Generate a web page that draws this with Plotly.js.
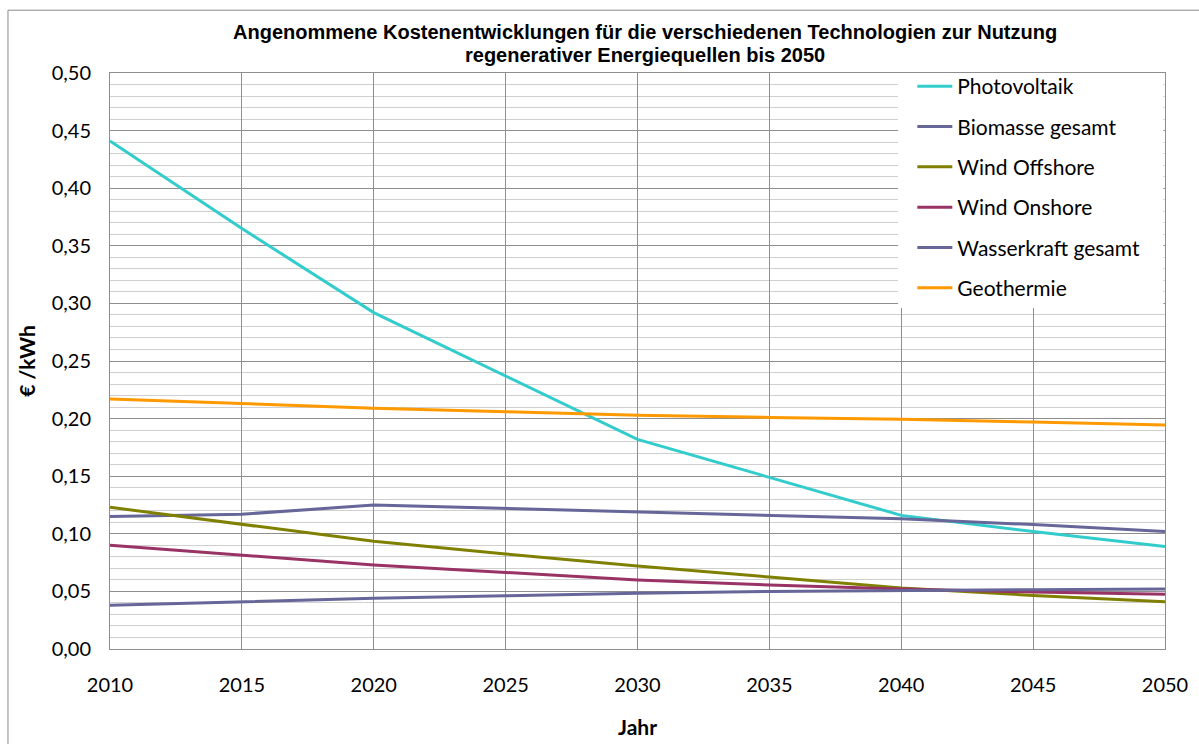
<!DOCTYPE html>
<html>
<head>
<meta charset="utf-8">
<script src="https://cdn.plot.ly/plotly-3.0.1.min.js"></script>
<style>html,body{margin:0;padding:0;background:#fff;}#chart{width:1199px;height:744px;}</style>
</head>
<body>
<div id="chart"></div>
<script>
const years = [2010, 2015, 2020, 2025, 2030, 2035, 2040, 2045, 2050];
const seriesNames = ["Photovoltaik", "Biomasse gesamt", "Wind Offshore", "Wind Onshore", "Wasserkraft gesamt", "Geothermie"];
const photovoltaik = [0.441, 0.365, 0.292, 0.237, 0.182, 0.149, 0.116, 0.102, 0.089];
const biomasse = [0.115, 0.117, 0.125, 0.122, 0.119, 0.116, 0.113, 0.108, 0.102];
const windOffshore = [0.123, 0.108, 0.0935, 0.0825, 0.072, 0.0625, 0.053, 0.0465, 0.041];
const windOnshore = [0.090, 0.0815, 0.073, 0.0665, 0.060, 0.0555, 0.052, 0.0495, 0.0475];
const wasserkraft = [0.038, 0.041, 0.044, 0.0462, 0.0485, 0.050, 0.051, 0.0515, 0.052];
const geothermie = [0.217, 0.213, 0.209, 0.206, 0.203, 0.201, 0.1995, 0.197, 0.1945];
const titleLines = ["Angenommene Kostenentwicklungen für die verschiedenen Technologien zur Nutzung",
                    "regenerativer Energiequellen bis 2050"];
const colors = ["#33CCCC", "#666699", "#808000", "#993366", "#666699", "#FF9900"];
const allValues = [photovoltaik, biomasse, windOffshore, windOnshore, wasserkraft, geothermie];

const traces = allValues.map((vals, i) => ({
  x: years, y: vals, type: "scatter", mode: "lines",
  name: seriesNames[i], legendgroup: "g" + i,
  line: {color: colors[i], width: 3}
}));

const titleFont = {family: "Liberation Sans, Arial, sans-serif", size: 20, color: "#000"};
const tickFont = {family: "Lato, sans-serif", size: 20, color: "#000"};
const axTitleFont = {family: "Lato, sans-serif", size: 21, color: "#000", weight: 700};

const layout = {
  width: 1199, height: 744,
  margin: {l: 110, r: 34, t: 73, b: 95},
  paper_bgcolor: "#fff", plot_bgcolor: "#fff",
  separators: ",.",
  showlegend: true,
  xaxis: {
    range: [2010, 2050], dtick: 5, tick0: 2010,
    showgrid: true, gridcolor: "#8e8e8e", gridwidth: 1,
    zeroline: false, showline: true, linecolor: "#8e8e8e", linewidth: 1, mirror: true,
    ticks: "", ticklabelstandoff: 18,
    tickfont: tickFont,
    title: {text: "<b>Jahr</b>", font: axTitleFont, standoff: 25}
  },
  yaxis: {
    range: [0, 0.5], dtick: 0.05, tick0: 0, tickformat: ".2f",
    showgrid: true, gridcolor: "#8e8e8e", gridwidth: 1,
    minor: {dtick: 0.01, showgrid: true, gridcolor: "#cfcfcf", gridwidth: 1, ticks: ""},
    zeroline: false, showline: true, linecolor: "#8e8e8e", linewidth: 1, mirror: true,
    ticks: "", ticklabelstandoff: 14,
    tickfont: tickFont,
    title: {text: "<b>€ /kWh</b>", font: axTitleFont, standoff: 10}
  },
  legend: {
    x: 0.7605, xanchor: "left", y: 1.012, yanchor: "top",
    bgcolor: "rgba(0,0,0,0)", borderwidth: 0,
    font: {family: "Lato, sans-serif", size: 21, color: "#000"},
    tracegroupgap: 10, itemwidth: 35
  },
  annotations: [
    {text: "<b>" + titleLines[0] + "</b>", xref: "paper", yref: "paper", x: 0.507, y: (649 - 32) / 576,
     xanchor: "center", yanchor: "middle", showarrow: false, font: titleFont},
    {text: "<b>" + titleLines[1] + "</b>", xref: "paper", yref: "paper", x: 0.507, y: (649 - 55) / 576,
     xanchor: "center", yanchor: "middle", showarrow: false, font: titleFont}
  ],
  shapes: [
    {type: "rect", xref: "paper", yref: "paper", x0: 0.747, x1: 0.9985, y0: 0.592, y1: 1.0,
     fillcolor: "#fff", line: {width: 0}, layer: "above"},
    {type: "rect", xref: "paper", yref: "paper", x0: -0.0967, x1: 1.05, y0: -0.2, y1: 1.109,
     fillcolor: "rgba(0,0,0,0)", line: {color: "#8a8a8a", width: 1}, layer: "above"}
  ]
};

Plotly.newPlot("chart", traces, layout, {displayModeBar: false, staticPlot: true});
</script>
</body>
</html>
